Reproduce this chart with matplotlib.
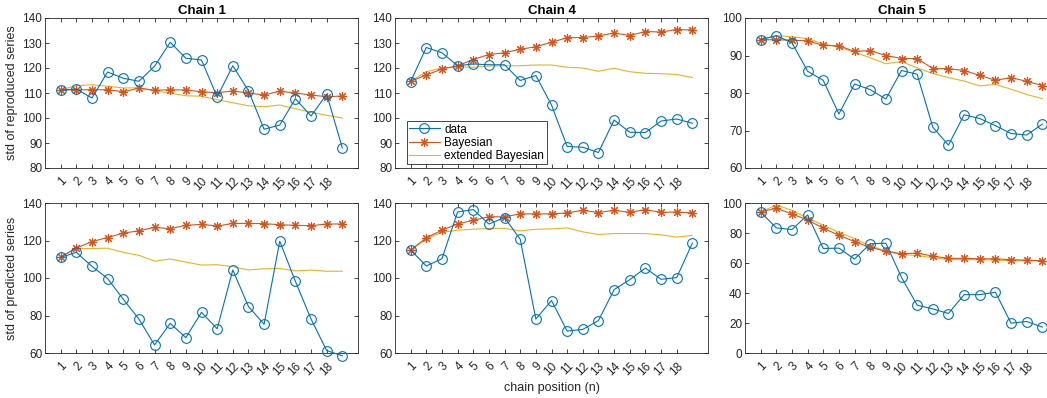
import numpy as np
import matplotlib
matplotlib.use("Agg")
import matplotlib.pyplot as plt

plt.rcParams['font.family'] = ['Liberation Sans', 'DejaVu Sans']

# chain positions (19 points, but only 18 tick labels in the original)
positions = np.arange(1, 20)
tick_pos = np.arange(1, 19)
tick_labels = [str(i) for i in tick_pos]

chains = ['Chain 1', 'Chain 4', 'Chain 5']

# top row: std of reproduced series
rep_data_1 = [111.1, 111.6, 108.0, 118.4, 115.9, 114.7, 120.7, 130.3, 123.9, 123.2,
              108.4, 120.9, 110.9, 95.5, 97.2, 107.7, 100.8, 109.5, 88.0]
rep_bayes_1 = [111.3, 111.3, 111.3, 111.3, 110.5, 111.9, 111.1, 111.3, 111.2, 110.5,
               110.1, 110.8, 110.0, 109.2, 110.7, 110.0, 109.2, 108.5, 108.8]
rep_ext_1 = [111.3, 112.9, 113.3, 112.7, 112.0, 112.1, 110.9, 109.9, 108.9, 108.7,
             107.3, 106.1, 104.9, 104.5, 105.2, 103.7, 102.3, 101.1, 100.0]

rep_data_4 = [114.6, 128.2, 126.1, 120.9, 121.6, 121.3, 121.3, 115.0, 117.0, 105.2,
              88.6, 88.3, 86.2, 99.2, 94.3, 94.2, 98.8, 99.6, 97.9]
rep_bayes_4 = [114.7, 117.2, 119.6, 120.9, 123.4, 125.4, 126.1, 127.5, 128.5, 130.3,
               132.1, 132.2, 132.8, 134.0, 133.0, 134.6, 134.4, 135.4, 135.2]
rep_ext_4 = [114.7, 118.5, 120.0, 120.4, 120.3, 120.8, 120.9, 120.9, 121.2, 121.2,
             120.3, 120.0, 118.7, 119.9, 118.5, 117.9, 117.7, 117.4, 116.2]

rep_data_5 = [94.2, 95.3, 93.4, 85.8, 83.4, 74.4, 82.4, 80.9, 78.4, 86.0,
              85.0, 70.9, 66.1, 74.2, 73.2, 71.3, 69.2, 68.8, 71.7]
rep_bayes_5 = [94.2, 94.2, 94.1, 93.9, 92.7, 92.6, 91.1, 91.3, 90.0, 89.2,
               89.2, 86.5, 86.5, 86.0, 84.7, 83.4, 84.1, 83.1, 82.0]
rep_ext_5 = [94.2, 95.3, 95.0, 94.5, 93.1, 92.2, 90.9, 89.4, 87.8, 88.4,
             86.7, 85.2, 84.1, 83.2, 81.9, 82.3, 81.0, 79.6, 78.5]

# bottom row: std of predicted series
pred_data_1 = [111.0, 113.7, 106.2, 99.7, 88.7, 78.1, 64.3, 75.8, 68.2, 81.7,
               72.9, 104.3, 84.8, 75.3, 119.6, 98.2, 78.1, 61.3, 58.5]
pred_bayes_1 = [111.3, 116.0, 119.4, 121.6, 123.9, 125.2, 127.0, 126.3, 128.1, 128.6,
                127.7, 129.1, 129.1, 129.0, 128.4, 128.1, 127.9, 128.8, 128.8]
pred_ext_1 = [111.3, 115.7, 115.7, 115.9, 113.7, 112.1, 109.0, 110.1, 108.5, 106.9,
              107.1, 106.0, 104.3, 104.9, 105.1, 103.8, 104.2, 103.6, 103.6]

pred_data_4 = [114.9, 106.4, 110.3, 135.2, 136.5, 128.8, 132.2, 120.7, 78.1, 88.0,
               71.7, 72.6, 77.3, 93.8, 99.1, 105.3, 99.3, 100.2, 118.6]
pred_bayes_4 = [114.9, 121.4, 125.5, 128.8, 130.8, 132.7, 132.6, 134.2, 134.2, 134.2,
                134.7, 136.1, 134.9, 136.1, 135.0, 136.5, 135.0, 135.2, 134.7]
pred_ext_4 = [114.9, 120.9, 124.4, 125.5, 126.0, 126.4, 126.5, 125.1, 126.0, 126.2,
              126.7, 124.6, 123.2, 123.7, 123.7, 123.7, 123.0, 121.8, 122.7]

pred_data_5 = [94.0, 83.4, 82.3, 92.0, 69.7, 69.9, 62.6, 72.8, 73.2, 50.4,
               31.9, 29.4, 26.3, 38.9, 38.9, 40.5, 19.9, 21.0, 17.3]
pred_bayes_5 = [94.0, 96.5, 92.7, 88.7, 83.2, 78.5, 74.3, 70.4, 67.9, 66.2,
                66.6, 64.6, 63.1, 63.1, 62.8, 62.8, 62.2, 61.9, 61.5]
pred_ext_5 = [94.0, 98.7, 95.1, 90.0, 85.2, 80.5, 76.3, 71.5, 67.9, 65.7,
              65.0, 63.5, 62.4, 62.4, 62.2, 61.9, 61.5, 61.5, 61.5]

top_rows = [(rep_data_1, rep_bayes_1, rep_ext_1),
            (rep_data_4, rep_bayes_4, rep_ext_4),
            (rep_data_5, rep_bayes_5, rep_ext_5)]
bottom_rows = [(pred_data_1, pred_bayes_1, pred_ext_1),
               (pred_data_4, pred_bayes_4, pred_ext_4),
               (pred_data_5, pred_bayes_5, pred_ext_5)]

top_ylims = [(80, 140), (80, 140), (60, 100)]
bottom_ylims = [(60, 140), (60, 140), (0, 100)]
top_yticks = [np.arange(80, 141, 10), np.arange(80, 141, 10), np.arange(60, 101, 10)]
bottom_yticks = [np.arange(60, 141, 20), np.arange(60, 141, 20), np.arange(0, 101, 20)]

# matlab default colours
c_data = '#0072BD'
c_bayes = '#D95319'
c_ext = '#EDB120'
axis_col = '#262626'

# matlab style asterisk (8 arms)
star = (8, 2, 0)

fig = plt.figure(figsize=(10.47, 3.98), dpi=100)

lefts = [45 / 1047, 395 / 1047, 745 / 1047]
width = 313 / 1047
bottoms = [1 - 168 / 398, 1 - 353 / 398]
height = 150 / 398


def draw(ax, d, b, e, ylim, yticks):
    ax.plot(positions, d, '-o', color=c_data, lw=0.8, ms=7, mfc='none',
            mew=0.8, label='data', clip_on=False, zorder=3)
    ax.plot(positions, b, '-', marker=star, color=c_bayes, lw=0.8, ms=6.5, mew=0.8,
            label='Bayesian', clip_on=False, zorder=2)
    ax.plot(positions, e, '-', color=c_ext, lw=0.8, label='extended Bayesian',
            clip_on=False, zorder=1)
    ax.set_xlim(0, 20)
    ax.set_ylim(*ylim)
    ax.set_yticks(yticks)
    ax.set_xticks(tick_pos)
    ax.set_xticklabels(tick_labels, rotation=45, ha='right', va='top',
                       rotation_mode='anchor')
    ax.tick_params(direction='in', top=True, right=True, length=3,
                   width=0.6, colors=axis_col, labelsize=8.5, pad=2)
    ax.tick_params(axis='x', pad=5)
    for sp in ax.spines.values():
        sp.set_color(axis_col)
        sp.set_linewidth(0.6)


for j in range(3):
    ax = fig.add_axes([lefts[j], bottoms[0], width, height])
    draw(ax, *top_rows[j], top_ylims[j], top_yticks[j])
    ax.set_title(chains[j], fontsize=9.5, fontweight='bold', pad=3)
    if j == 0:
        ax.set_ylabel('std of reproduced series', fontsize=9, color=axis_col,
                      labelpad=3)
    if j == 1:
        leg = ax.legend(loc='lower left', bbox_to_anchor=(0.037, 0.025),
                        borderaxespad=0, fontsize=8.5, fancybox=False,
                        framealpha=1, edgecolor=axis_col, handlelength=2.6,
                        borderpad=0.2, labelspacing=0.1, handletextpad=0.4)
        leg.get_frame().set_linewidth(0.6)

    ax = fig.add_axes([lefts[j], bottoms[1], width, height])
    draw(ax, *bottom_rows[j], bottom_ylims[j], bottom_yticks[j])
    if j == 0:
        ax.set_ylabel('std of predicted series', fontsize=9, color=axis_col,
                      labelpad=3)
    if j == 1:
        ax.set_xlabel('chain position (n)', fontsize=9, color=axis_col, labelpad=3)

fig.savefig('out.png', dpi=100)
